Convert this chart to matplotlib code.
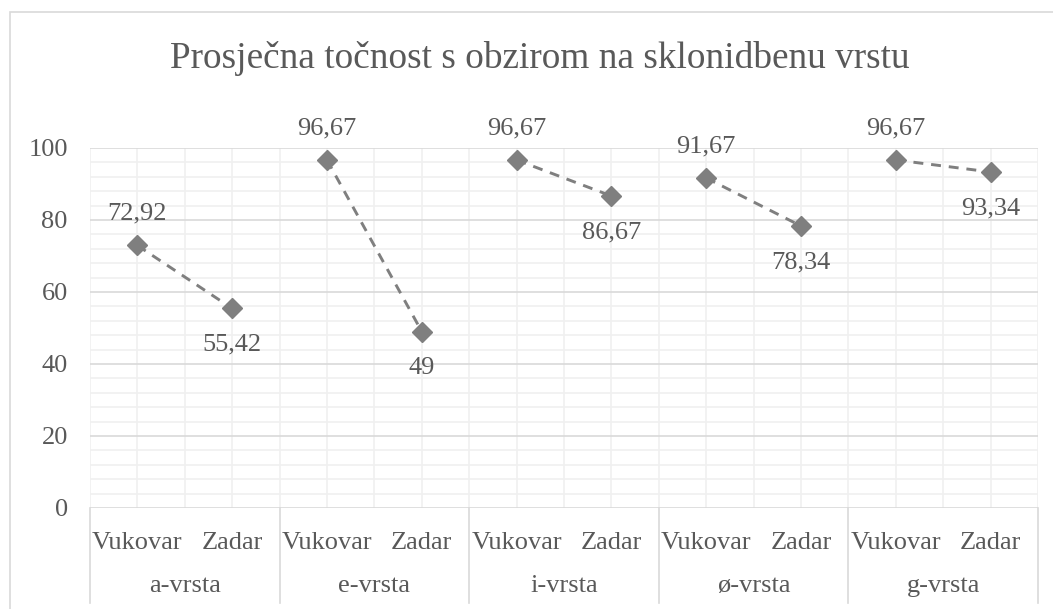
import matplotlib.pyplot as plt
from matplotlib.patches import Rectangle
from matplotlib.ticker import MultipleLocator
import matplotlib.transforms as mtransforms

plt.rcParams['font.family'] = ['Liberation Serif', 'DejaVu Serif']

title = 'Prosječna točnost s obzirom na sklonidbenu vrstu'
groups = ['a-vrsta', 'e-vrsta', 'i-vrsta', 'ø-vrsta', 'g-vrsta']
cities = ['Vukovar', 'Zadar']
vukovar = [72.92, 96.67, 96.67, 91.67, 96.67]
zadar = [55.42, 49, 86.67, 78.34, 93.34]

text_col = '#595959'
line_col = '#7f7f7f'
W, H = 1053, 609
fs = 19

fig = plt.figure(figsize=(W / 100, H / 100), dpi=100)
fig.patches.append(Rectangle((10 / W, -0.1), 1.2, 1.1 - 12 / H,
                             transform=fig.transFigure, fill=False,
                             edgecolor='#d9d9d9', lw=1.2))
ax = fig.add_axes([90 / W, 1 - 508 / H, (1038 - 90) / W, (508 - 148) / H])

# each group is its own short segment
for i, g in enumerate(groups):
    xs = [2 * i, 2 * i + 1]
    ys = [vukovar[i], zadar[i]]
    ax.plot(xs, ys, color=line_col, lw=2.1, ls=(0, (3.4, 2.7)),
            marker='D', ms=10, mfc=line_col, mec=line_col, zorder=3)
    for x, y, dy in zip(xs, ys, [23, -26]):
        ax.annotate(f'{y:g}'.replace('.', ','), (x, y), xytext=(0, dy),
                    textcoords='offset points', ha='center', va='center',
                    fontsize=fs, color=text_col)

ax.set_xlim(-0.5, 2 * len(groups) - 0.5)
ax.set_ylim(0, 100)
ax.yaxis.set_major_locator(MultipleLocator(20))
ax.yaxis.set_minor_locator(MultipleLocator(4))
ax.set_xticks(range(2 * len(groups)))
ax.set_xticklabels(cities * len(groups))
ax.set_xticks([k + 0.5 for k in range(-1, 2 * len(groups))], minor=True)
ax.grid(which='major', axis='y', color='#d9d9d9', lw=1.2)
ax.grid(which='minor', axis='y', color='#f0f0f0', lw=1.2)
ax.grid(which='both', axis='x', color='#f0f0f0', lw=1.2)
ax.set_axisbelow(True)
for s in ax.spines.values():
    s.set_visible(False)
ax.tick_params(which='both', length=0)
ax.tick_params(axis='y', pad=16, labelsize=fs, labelcolor=text_col)
ax.tick_params(axis='x', pad=17, labelsize=fs, labelcolor=text_col)

# multi-level category axis
trans = mtransforms.blended_transform_factory(ax.transData, ax.transAxes)
for k in range(len(groups) + 1):
    ax.plot([2 * k - 0.5] * 2, [0, -0.264], transform=trans, color='#d9d9d9',
            lw=1.2, clip_on=False)
for i, g in enumerate(groups):
    ax.text(2 * i + 0.5, -0.217, g, transform=trans, ha='center', va='center',
            fontsize=fs, color=text_col)

fig.text(0.513, 1 - 59 / H, title, ha='center', va='center', fontsize=26.8,
         color=text_col)

plt.savefig('out.png', dpi=100)
